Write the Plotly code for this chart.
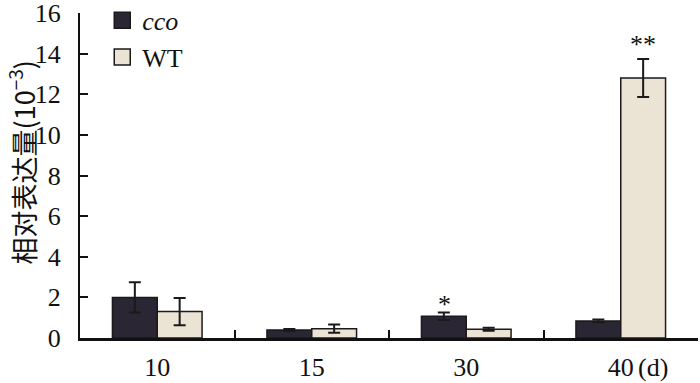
import plotly.graph_objects as go

categories = ["10", "15", "30", "40"]
tick_labels = ["10", "15", "30", "40"]
x_unit = "(d)"
y_title = "相对表达量(10<sup>−3</sup>)"
cco_values = [2.0, 0.39, 1.07, 0.84]
cco_errors = [0.74, 0.05, 0.18, 0.07]
wt_values = [1.3, 0.46, 0.43, 12.8]
wt_errors = [0.67, 0.2, 0.07, 0.93]
cco_marks = ["", "", "*", ""]
wt_marks = ["", "", "", "**"]

FONT = "Liberation Serif, Times New Roman, Noto Sans CJK SC, serif"
DARK = "#2b2633"
BEIGE = "#ebe3d3"
EDGE = "#1a1a1a"
FS = 26

fig = go.Figure()
fig.add_trace(go.Bar(
    x=categories, y=cco_values, name="cco",
    marker=dict(color=DARK, line=dict(color=EDGE, width=1.5)),
    error_y=dict(type="data", array=cco_errors, color=EDGE, thickness=2, width=6),
    showlegend=False,
))
fig.add_trace(go.Bar(
    x=categories, y=wt_values, name="WT",
    marker=dict(color=BEIGE, line=dict(color=EDGE, width=1.5)),
    error_y=dict(type="data", array=wt_errors, color=EDGE, thickness=2, width=6),
    showlegend=False,
))
# legend entries
fig.add_trace(go.Scatter(x=[categories[0]], y=[None], mode="markers", name="<i>cco</i>",
                         marker=dict(symbol="square", size=16, color=DARK,
                                     line=dict(color=EDGE, width=1.5))))
fig.add_trace(go.Scatter(x=[categories[0]], y=[None], mode="markers", name="WT",
                         marker=dict(symbol="square", size=16, color=BEIGE,
                                     line=dict(color=EDGE, width=1.5))))

# significance marks (category index positions)
for i, (v, e, m) in enumerate(zip(cco_values, cco_errors, cco_marks)):
    if m:
        fig.add_annotation(x=i, y=v + e, text=m, showarrow=False, xshift=-22,
                           yanchor="bottom", yshift=-8, font=dict(size=FS, family=FONT, color="#111"))
for i, (v, e, m) in enumerate(zip(wt_values, wt_errors, wt_marks)):
    if m:
        fig.add_annotation(x=i, y=v + e, text=m, showarrow=False, xshift=22,
                           yanchor="bottom", yshift=-2, font=dict(size=FS, family=FONT, color="#111"))

fig.add_annotation(x=len(categories) - 1, y=0, yref="y", text=x_unit, showarrow=False,
                   xanchor="left", yanchor="top", xshift=15, yshift=-13,
                   font=dict(size=FS, family=FONT, color="#111"))

# y-axis title
fig.add_annotation(xref="paper", yref="paper", x=-0.094, y=0.54, text=y_title,
                   textangle=-90, showarrow=False, xanchor="center", yanchor="middle",
                   font=dict(size=27, family="Noto Sans CJK SC, Liberation Serif", color="#111"))

fig.update_layout(
    width=700, height=383,
    margin=dict(l=80, r=2, t=13, b=45, autoexpand=False),
    paper_bgcolor="white", plot_bgcolor="white",
    font=dict(family=FONT, size=FS, color="#111"),
    barmode="group", bargap=0.42, bargroupgap=0,
    legend=dict(x=0.036, y=1.05, xanchor="left", yanchor="top",
                font=dict(size=FS, family=FONT), bgcolor="rgba(0,0,0,0)",
                itemsizing="trace", tracegroupgap=0),
    xaxis=dict(
        type="category", categoryorder="array", categoryarray=categories,
        range=[-0.5, len(categories) - 0.5],
        tickvals=categories, ticktext=tick_labels,
        showline=True, linecolor="#111", linewidth=2.5,
        ticks="inside", tickson="boundaries", ticklen=8, tickwidth=2, tickcolor="#111",
        ticklabelstandoff=4, showgrid=False, zeroline=False,
        tickfont=dict(size=FS), ticklabeloverflow="allow",
    ),
    yaxis=dict(
        range=[0, 16], dtick=2, showline=True, linecolor="#111", linewidth=2,
        ticks="inside", ticklen=8, tickwidth=2, tickcolor="#111",
        ticklabelstandoff=12, showgrid=False, zeroline=False,
        tickfont=dict(size=FS), ticklabeloverflow="allow",
    ),
)

fig.write_html("out.html", config={"displayModeBar": False},
               post_script="document.body.style.margin='0';document.body.style.overflow='hidden';")
